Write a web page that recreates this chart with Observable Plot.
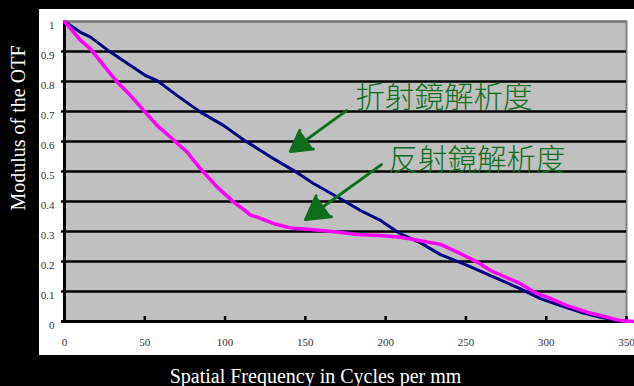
<!DOCTYPE html>
<html>
<head>
<meta charset="utf-8">
<script src="https://cdn.jsdelivr.net/npm/d3@7"></script>
<script src="https://cdn.jsdelivr.net/npm/@observablehq/plot@0.6"></script>
<style>
  html, body { margin: 0; padding: 0; background: #000; }
  #wrap { position: relative; width: 634px; height: 386px; overflow: hidden; background: #000; }
  #panel { position: absolute; left: 39px; top: 9px; width: 595px; height: 346px; background: #fff; }
  #chart { position: absolute; left: 0; top: 0; }
</style>
</head>
<body>
<div id="wrap"><div id="panel"></div><div id="chart"></div></div>
<script>
// Refractor (navy) MTF curve
const refractX = [0, 10, 16.2, 28.6, 41.1, 50.4, 57.7, 70.2, 84.7, 99.2, 111.7, 122.1, 130.4, 142.8, 155.3, 171.9, 184.3, 196.8, 209.3, 221.7, 234.2, 250.8, 267.4, 284, 296.4, 308.9, 321.3, 333.8, 344.2, 350];
const refractY = [1.0, 0.964, 0.948, 0.898, 0.853, 0.82, 0.803, 0.753, 0.698, 0.653, 0.605, 0.57, 0.542, 0.503, 0.459, 0.409, 0.37, 0.337, 0.292, 0.262, 0.223, 0.187, 0.148, 0.109, 0.076, 0.053, 0.031, 0.014, 0.003, 0];
// Reflector (magenta) MTF curve
const reflectX = [0, 10, 16.2, 24.5, 32.8, 41.1, 49.4, 57.7, 66, 76.4, 84.7, 95.1, 105.4, 109.6, 115.8, 120, 130.4, 140.7, 155.3, 169.8, 182.3, 196.8, 209.3, 221.7, 234.2, 246.6, 257, 265.3, 284, 292.3, 300.6, 313, 325.4, 337.9, 346.2, 354];
const reflectY = [1.0, 0.937, 0.909, 0.853, 0.798, 0.753, 0.703, 0.653, 0.614, 0.564, 0.509, 0.448, 0.398, 0.381, 0.355, 0.348, 0.326, 0.312, 0.306, 0.298, 0.29, 0.287, 0.281, 0.269, 0.257, 0.226, 0.198, 0.17, 0.126, 0.098, 0.081, 0.053, 0.031, 0.014, 0.003, 0];

const xTicks = [0, 50, 100, 150, 200, 250, 300, 350];
const yTicks = [0, 0.1, 0.2, 0.3, 0.4, 0.5, 0.6, 0.7, 0.8, 0.9, 1];
const yTickLabels = ["0", "0.1", "0.2", "0.3", "0.4", "0.5", "0.6", "0.7", "0.8", "0.9", "1"];

const xLabel = "Spatial Frequency in Cycles per mm";
const yLabel = "Modulus of the OTF";

// annotations
const noteText = ["折射鏡解析度", "反射鏡解析度"];
const noteX = [181.2, 201.8];
const noteY = [0.747, 0.537];
const arrowX1 = [175.6, 197.4];
const arrowY1 = [0.703, 0.523];
const arrowX2 = [140.7, 150.1];
const arrowY2 = [0.567, 0.34];

const refract = refractX.map((x, i) => ({x, y: refractY[i]}));
const reflect = reflectX.map((x, i) => ({x, y: reflectY[i]}));
const notes = noteText.map((t, i) => ({t, x: noteX[i], y: noteY[i]}));
const arrows = arrowX1.map((x1, i) => ({x1, y1: arrowY1[i], x2: arrowX2[i], y2: arrowY2[i]}));
const gridTicks = yTicks.filter(d => d > 0 && d < 1);

const serif = "'Liberation Serif', 'Times New Roman', serif";
const green = "#0e6e1e";

const chart = Plot.plot({
  width: 634,
  height: 386,
  marginLeft: 64,
  marginRight: 8,
  marginTop: 21,
  marginBottom: 65,
  style: {background: "transparent", fontFamily: serif},
  x: {domain: [0, 350]},
  y: {domain: [0, 1]},
  marks: [
    Plot.frame({fill: "#c0c0c0", stroke: "#808080", strokeWidth: 2}),
    Plot.ruleY(gridTicks, {stroke: "#000", strokeWidth: 2.6, insetLeft: -3}),
    Plot.ruleY([1], {stroke: "#7a7a7a", strokeWidth: 2.6}),
    Plot.ruleY([0], {stroke: "#000", strokeWidth: 3, insetLeft: -3}),
    Plot.ruleX([0], {stroke: "#000", strokeWidth: 3}),
    Plot.ruleX(xTicks, {y1: 0, y2: 0, insetTop: -5, stroke: "#000", strokeWidth: 2.5}),
    Plot.axisY(yTicks, {tickSize: 0, tickPadding: 10, dy: 4, fontSize: 11, fill: "#333", label: null,
      tickFormat: (d, i) => yTickLabels[yTicks.indexOf(d)], fontFamily: serif}),
    Plot.axisX(xTicks, {tickSize: 0, tickPadding: 17, fontSize: 11, fill: "#333", label: null, fontFamily: serif}),
    Plot.line(refract, {x: "x", y: "y", stroke: "#000080", strokeWidth: 3}),
    Plot.line(reflect, {x: "x", y: "y", stroke: "#ff00ff", strokeWidth: 3.5}),
    Plot.arrow(arrows, {x1: "x1", y1: "y1", x2: "x2", y2: "y2", stroke: green, fill: green, strokeWidth: 3, headLength: 13, headAngle: 60}),
    Plot.text(notes, {x: "x", y: "y", text: "t", textAnchor: "start", lineAnchor: "middle", fill: green,
      fontSize: 29.5, fontFamily: "'Noto Sans CJK TC', sans-serif", fontWeight: 300}),
    Plot.text([yLabel], {frameAnchor: "left", rotate: -90, dx: -45.5, dy: 39, fill: "#fff", fontSize: 20, fontFamily: serif, lineAnchor: "middle"}),
    Plot.text([xLabel], {frameAnchor: "bottom", dx: -30, dy: 55.5, fill: "#fff", fontSize: 20, fontFamily: serif, lineAnchor: "middle"})
  ]
});
document.getElementById("chart").appendChild(chart);
</script>
</body>
</html>
